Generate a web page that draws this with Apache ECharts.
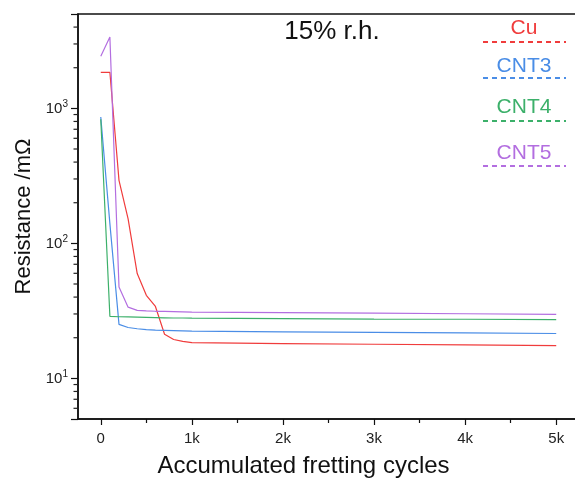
<!DOCTYPE html>
<html>
<head>
<meta charset="utf-8">
<script src="https://cdn.jsdelivr.net/npm/echarts@6/dist/echarts.min.js"></script>
<style>
html, body { margin: 0; padding: 0; background: #fff; }
#chart { width: 575px; height: 482px; }
</style>
</head>
<body>
<div id="chart"></div>
<script>
// fretting cycles where resistance was read
var cycles = [0, 100, 200, 300, 400, 500, 600, 700, 800, 900, 1000, 2000, 3000, 4000, 5000];
// resistance in mOhm
var cu   = [1850, 1850, 293, 152, 59.7, 41.2, 34.1, 21.2, 19.4, 18.8, 18.4, 18.1, 17.9, 17.7, 17.5];
var cnt3 = [862, 140, 25.1, 23.8, 23.3, 23.0, 22.8, 22.7, 22.6, 22.5, 22.4, 22.1, 21.9, 21.7, 21.5];
var cnt4 = [830, 28.8, 28.6, 28.5, 28.4, 28.3, 28.2, 28.1, 28.0, 28.0, 27.9, 27.7, 27.5, 27.4, 27.2];
var cnt5 = [2430, 3375, 47.5, 33.7, 31.9, 31.6, 31.4, 31.3, 31.2, 31.1, 31.0, 30.7, 30.4, 30.1, 29.8];

var seriesNames = ['Cu', 'CNT3', 'CNT4', 'CNT5'];
var seriesValues = [cu, cnt3, cnt4, cnt5];
var seriesColors = ['#f03c3c', '#4a8de6', '#3cb06a', '#b36ee0'];

var xLabelValues = [0, 1000, 2000, 3000, 4000, 5000];
var xMinorValues = [500, 1500, 2500, 3500, 4500];
var yMinorValues = [6, 7, 8, 9, 20, 30, 40, 50, 60, 70, 80, 90, 200, 300, 400, 500, 600, 700, 800, 900, 2000, 3000, 4000];

var xMin = -250, xMax = 5250, yMin = 5, yMax = 5000;
var font = 'Liberation Sans, Arial, sans-serif';

var series = [];
for (let i = 0; i < seriesNames.length; i++) {
    var pts = [];
    for (let j = 0; j < cycles.length; j++) {
        pts.push([cycles[j], seriesValues[i][j]]);
    }
    series.push({
        name: seriesNames[i],
        type: 'line',
        data: pts,
        showSymbol: false,
        lineStyle: { color: seriesColors[i], width: 1.2 },
        itemStyle: { color: seriesColors[i] },
        z: 3
    });
}

// log minor ticks on the y axis
series.push({
    type: 'custom',
    silent: true,
    clip: false,
    data: yMinorValues.map(function(v) { return [xMin, v]; }),
    encode: { x: 0, y: 1 },
    renderItem: function(params, api) {
        var p = api.coord([api.value(0), api.value(1)]);
        return {
            type: 'line',
            shape: { x1: p[0] - 4.5, y1: p[1], x2: p[0], y2: p[1] },
            style: { stroke: '#222', lineWidth: 1.2 }
        };
    },
    z: 5
});

var graphics = [];
var legendTextY = [28, 66, 107, 153];
var legendLineY = [42, 78, 121, 166];
for (let i = 0; i < seriesNames.length; i++) {
    graphics.push({
        type: 'text',
        x: 524, y: legendTextY[i],
        style: {
            text: seriesNames[i], fill: seriesColors[i],
            font: '21px ' + font, textAlign: 'center', textVerticalAlign: 'middle'
        }
    });
    graphics.push({
        type: 'line',
        shape: { x1: 483, y1: legendLineY[i], x2: 566, y2: legendLineY[i] },
        style: { stroke: seriesColors[i], lineWidth: 2, lineDash: [5, 4] }
    });
}
graphics.push({
    type: 'text',
    x: 332, y: 32,
    style: {
        text: '15% r.h.', fill: '#111',
        font: '26px ' + font, textAlign: 'center', textVerticalAlign: 'middle'
    }
});

var myChart = echarts.init(document.getElementById('chart'));
var option = {
    animation: false,
    backgroundColor: '#fff',
    grid: {
        left: 78, top: 14, width: 501, height: 405,
        outerBoundsMode: 'none',
        containLabel: false,
        show: true, borderColor: '#111', borderWidth: 1.5
    },
    xAxis: [{
        type: 'value',
        min: xMin, max: xMax,
        name: 'Accumulated fretting cycles',
        nameLocation: 'middle',
        nameGap: 35,
        nameTextStyle: { fontSize: 24, color: '#111', fontFamily: font, padding: [0, 50, 0, 0] },
        axisLine: { onZero: false, lineStyle: { color: '#111', width: 1.5 } },
        axisTick: { length: 6, customValues: xLabelValues, lineStyle: { color: '#111', width: 1.2 } },
        axisLabel: {
            customValues: xLabelValues,
            margin: 12,
            fontSize: 15, color: '#222', fontFamily: font,
            formatter: function(v) { return v === 0 ? '0' : (v / 1000) + 'k'; }
        },
        splitLine: { show: false }
    }, {
        type: 'value',
        min: xMin, max: xMax,
        position: 'bottom',
        gridIndex: 0,
        axisLine: { show: false, onZero: false },
        axisTick: { length: 4, customValues: xMinorValues, lineStyle: { color: '#111', width: 1.2 } },
        axisLabel: { show: false },
        splitLine: { show: false }
    }],
    yAxis: {
        type: 'log',
        logBase: 10,
        min: yMin, max: yMax,
        name: 'Resistance /mΩ',
        nameLocation: 'middle',
        nameGap: 37,
        nameTextStyle: { fontSize: 22, color: '#111', fontFamily: font },
        axisLine: { show: true, onZero: false, lineStyle: { color: '#111', width: 1.5 } },
        axisTick: { length: 7, lineStyle: { color: '#111', width: 1.2 } },
        axisLabel: {
            margin: 10,
            fontSize: 15, color: '#222', fontFamily: font,
            formatter: function(v) {
                var e = Math.log10(v);
                if (Math.abs(e - Math.round(e)) > 1e-6) return '';
                return '10{sup|' + Math.round(e) + '}';
            },
            rich: {
                sup: { fontSize: 10, color: '#222', fontFamily: font, verticalAlign: 'top', padding: [0, 0, 8, 0] }
            }
        },
        splitLine: { show: false }
    },
    graphic: graphics,
    series: series
};
myChart.setOption(option);
</script>
</body>
</html>
